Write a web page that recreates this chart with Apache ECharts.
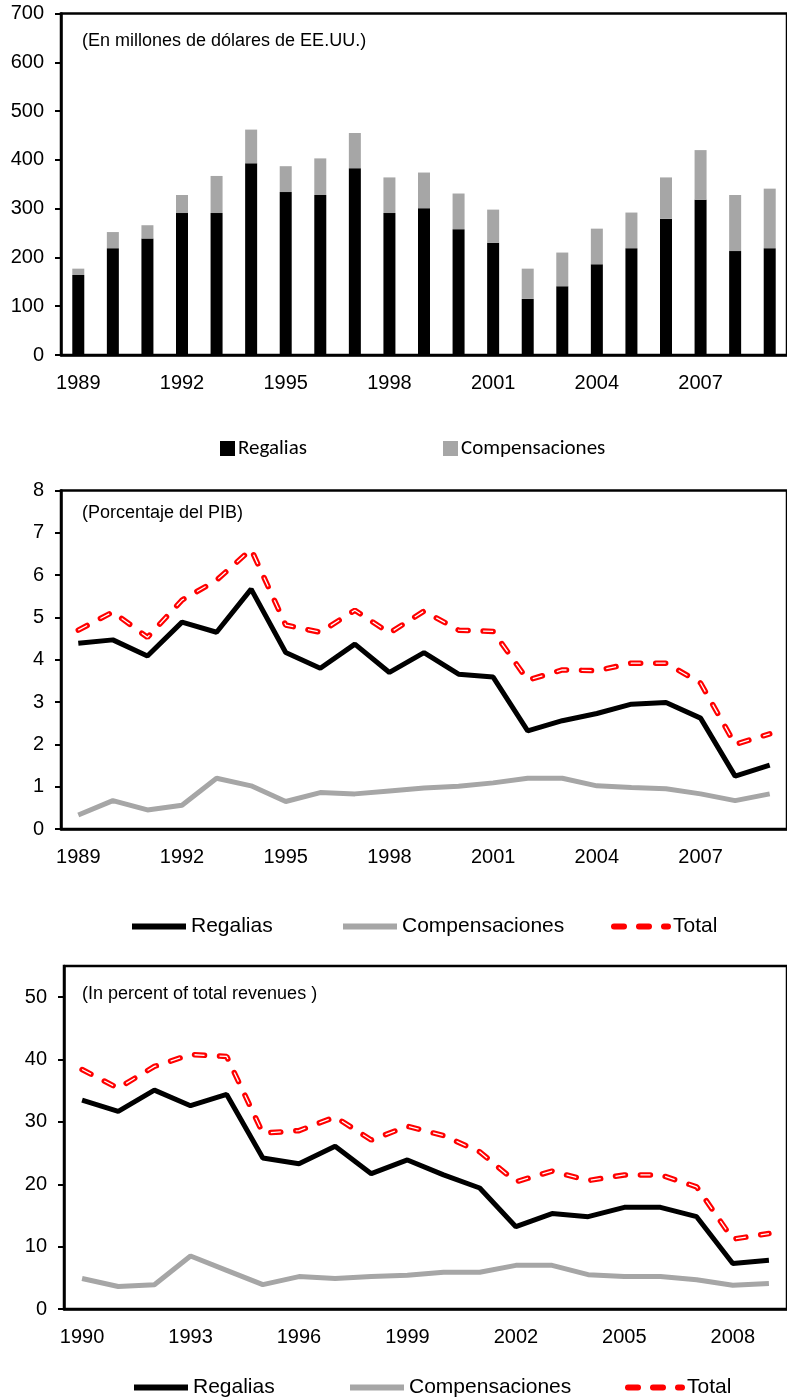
<!DOCTYPE html>
<html>
<head>
<meta charset="utf-8">
<script src="https://cdn.jsdelivr.net/npm/echarts@6/dist/echarts.min.js"></script>
<style>
  html, body { margin: 0; padding: 0; background: #fff; }
  .box { position: absolute; left: 0; width: 787px; }
</style>
</head>
<body>
<div id="bars" class="box" style="top: 0; height: 470px;"></div>
<div id="pib" class="box" style="top: 470px; height: 480px;"></div>
<div id="ingresos" class="box" style="top: 950px; height: 450px;"></div>
<script>
// chart 1: millions of US dollars
const years1 = ['1989', '1990', '1991', '1992', '1993', '1994', '1995', '1996', '1997', '1998', '1999',
  '2000', '2001', '2002', '2003', '2004', '2005', '2006', '2007', '2008', '2009']
const regaliasUSD = [164, 219, 239, 291, 291, 393, 334, 328, 383, 291, 301, 258, 230, 115, 141, 186, 219, 279, 318, 213, 219]
const compensUSD = [13, 33, 27, 37, 76, 69, 53, 75, 72, 73, 73, 73, 68, 62, 69, 73, 73, 85, 102, 115, 122]

// chart 2: percent of GDP
const regaliasPIB = [4.39, 4.47, 4.09, 4.89, 4.65, 5.67, 4.17, 3.8, 4.37, 3.7, 4.17, 3.66, 3.59, 2.32, 2.56, 2.73, 2.95, 2.99, 2.62, 1.25, 1.51]
const compensPIB = [0.33, 0.67, 0.45, 0.56, 1.2, 1.02, 0.65, 0.86, 0.83, 0.9, 0.97, 1.01, 1.09, 1.2, 1.2, 1.02, 0.98, 0.95, 0.83, 0.67, 0.83]
const totalPIB = [4.7, 5.13, 4.53, 5.41, 5.88, 6.61, 4.82, 4.65, 5.17, 4.63, 5.15, 4.7, 4.67, 3.52, 3.76, 3.74, 3.92, 3.92, 3.45, 2.0, 2.25]

// chart 3: percent of total revenues
const years3 = ['1990', '1991', '1992', '1993', '1994', '1995', '1996', '1997', '1998', '1999',
  '2000', '2001', '2002', '2003', '2004', '2005', '2006', '2007', '2008', '2009']
const regaliasRev = [33.5, 31.7, 35.1, 32.6, 34.4, 24.2, 23.3, 26.1, 21.7, 23.9, 21.5, 19.4, 13.2, 15.3, 14.8, 16.3, 16.3, 14.8, 7.3, 7.8]
const compensRev = [4.9, 3.6, 3.9, 8.5, 6.2, 3.9, 5.2, 4.9, 5.2, 5.4, 5.9, 5.9, 7.0, 7.0, 5.5, 5.2, 5.2, 4.7, 3.8, 4.1]
const totalRev = [38.4, 35.4, 38.9, 40.8, 40.5, 28.2, 28.6, 30.8, 27.1, 29.3, 27.8, 25.2, 20.4, 22.1, 20.6, 21.5, 21.5, 19.6, 11.2, 12.1]

const ARIAL = 'Liberation Sans, Arial, sans-serif'
const CALIBRI = 'Carlito, Lato, sans-serif'
const GRAY = '#a6a6a6'

function yAxisOpt (max, interval) {
  return {
    type: 'value',
    min: 0,
    max: max,
    interval: interval,
    splitLine: { show: false },
    axisLine: { show: true, lineStyle: { color: '#000', width: 2.5 } },
    axisTick: { show: true, length: 6, lineStyle: { color: '#000', width: 2 } },
    axisLabel: { color: '#000', fontSize: 20, fontFamily: ARIAL, margin: 17, showMaxLabel: max % interval === 0 }
  }
}

function xAxisOpt (cats) {
  return {
    type: 'category',
    data: cats,
    axisLine: { lineStyle: { color: '#000', width: 2.5 } },
    axisTick: { alignWithLabel: false, interval: 4, length: 6, lineStyle: { color: '#000', width: 2 } },
    axisLabel: { interval: 2, color: '#000', fontSize: 20, fontFamily: ARIAL, margin: 18 }
  }
}

function noteTitle (text, top) {
  return {
    text: text,
    left: 77,
    top: top,
    textStyle: { fontSize: 18, fontWeight: 'normal', color: '#000', fontFamily: ARIAL }
  }
}

function lineLegend (name, left, top) {
  return {
    data: [name],
    left: left,
    top: top,
    padding: 0,
    itemWidth: 54,
    itemHeight: 14,
    itemStyle: { opacity: 0 },
    lineStyle: { width: 6 },
    textStyle: { fontSize: 21, color: '#000', fontFamily: ARIAL }
  }
}

function boxLegend (name, left, top) {
  return {
    data: [name],
    left: left,
    top: top,
    padding: 0,
    icon: 'rect',
    itemWidth: 15,
    itemHeight: 15,
    itemGap: 0,
    textStyle: { fontSize: 21, color: '#000', fontFamily: CALIBRI, padding: [0, 0, 0, -2] }
  }
}

function lineSeries (regalias, compens, total) {
  const dash = [10, 15]
  return [
    { name: 'Regalias', type: 'line', data: regalias, symbol: 'none', lineStyle: { color: '#000', width: 5 }, itemStyle: { color: '#000' } },
    { name: 'Compensaciones', type: 'line', data: compens, symbol: 'none', lineStyle: { color: GRAY, width: 5 }, itemStyle: { color: GRAY } },
    { name: 'Total', type: 'line', data: total, symbol: 'none', lineStyle: { color: '#ff0000', width: 5.5, type: dash, cap: 'round' }, itemStyle: { color: '#ff0000' } },
    { name: 'Total interior', type: 'line', data: total, symbol: 'none', silent: true, lineStyle: { color: '#fff', width: 1.3, type: dash } }
  ]
}

const barChart = echarts.init(document.getElementById('bars'))
barChart.setOption({
  animation: false,
  title: noteTitle('(En millones de dólares de EE.UU.)', 27),
  grid: { left: 61, right: -6, top: 13.5, bottom: 115, show: true, borderColor: '#000', borderWidth: 2.5 },
  legend: [
    boxLegend('Regalias', 220, 438),
    boxLegend('Compensaciones', 443, 438)
  ],
  xAxis: xAxisOpt(years1),
  yAxis: yAxisOpt(700, 100),
  series: [
    { name: 'Regalias', type: 'bar', stack: 'total', barWidth: 12, data: regaliasUSD, itemStyle: { color: '#000' } },
    { name: 'Compensaciones', type: 'bar', stack: 'total', barWidth: 12, data: compensUSD, itemStyle: { color: GRAY } }
  ]
})

const pibChart = echarts.init(document.getElementById('pib'))
pibChart.setOption({
  animation: false,
  title: noteTitle('(Porcentaje del PIB)', 29),
  grid: { left: 61, right: -6, top: 20.5, bottom: 121, show: true, borderColor: '#000', borderWidth: 2.5 },
  legend: [
    lineLegend('Regalias', 129, 446),
    lineLegend('Compensaciones', 340, 446),
    lineLegend('Total', 611, 446)
  ],
  xAxis: xAxisOpt(years1),
  yAxis: yAxisOpt(8, 1),
  series: lineSeries(regaliasPIB, compensPIB, totalPIB)
})

const revChart = echarts.init(document.getElementById('ingresos'))
revChart.setOption({
  animation: false,
  title: noteTitle('(In percent of total revenues )', 30),
  grid: { left: 64, right: -11, top: 16, bottom: 91, show: true, borderColor: '#000', borderWidth: 2.5 },
  legend: [
    lineLegend('Regalias', 131, 427),
    lineLegend('Compensaciones', 347, 427),
    lineLegend('Total', 625, 427)
  ],
  xAxis: xAxisOpt(years3),
  yAxis: yAxisOpt(55, 10),
  series: lineSeries(regaliasRev, compensRev, totalRev)
})
</script>
</body>
</html>
